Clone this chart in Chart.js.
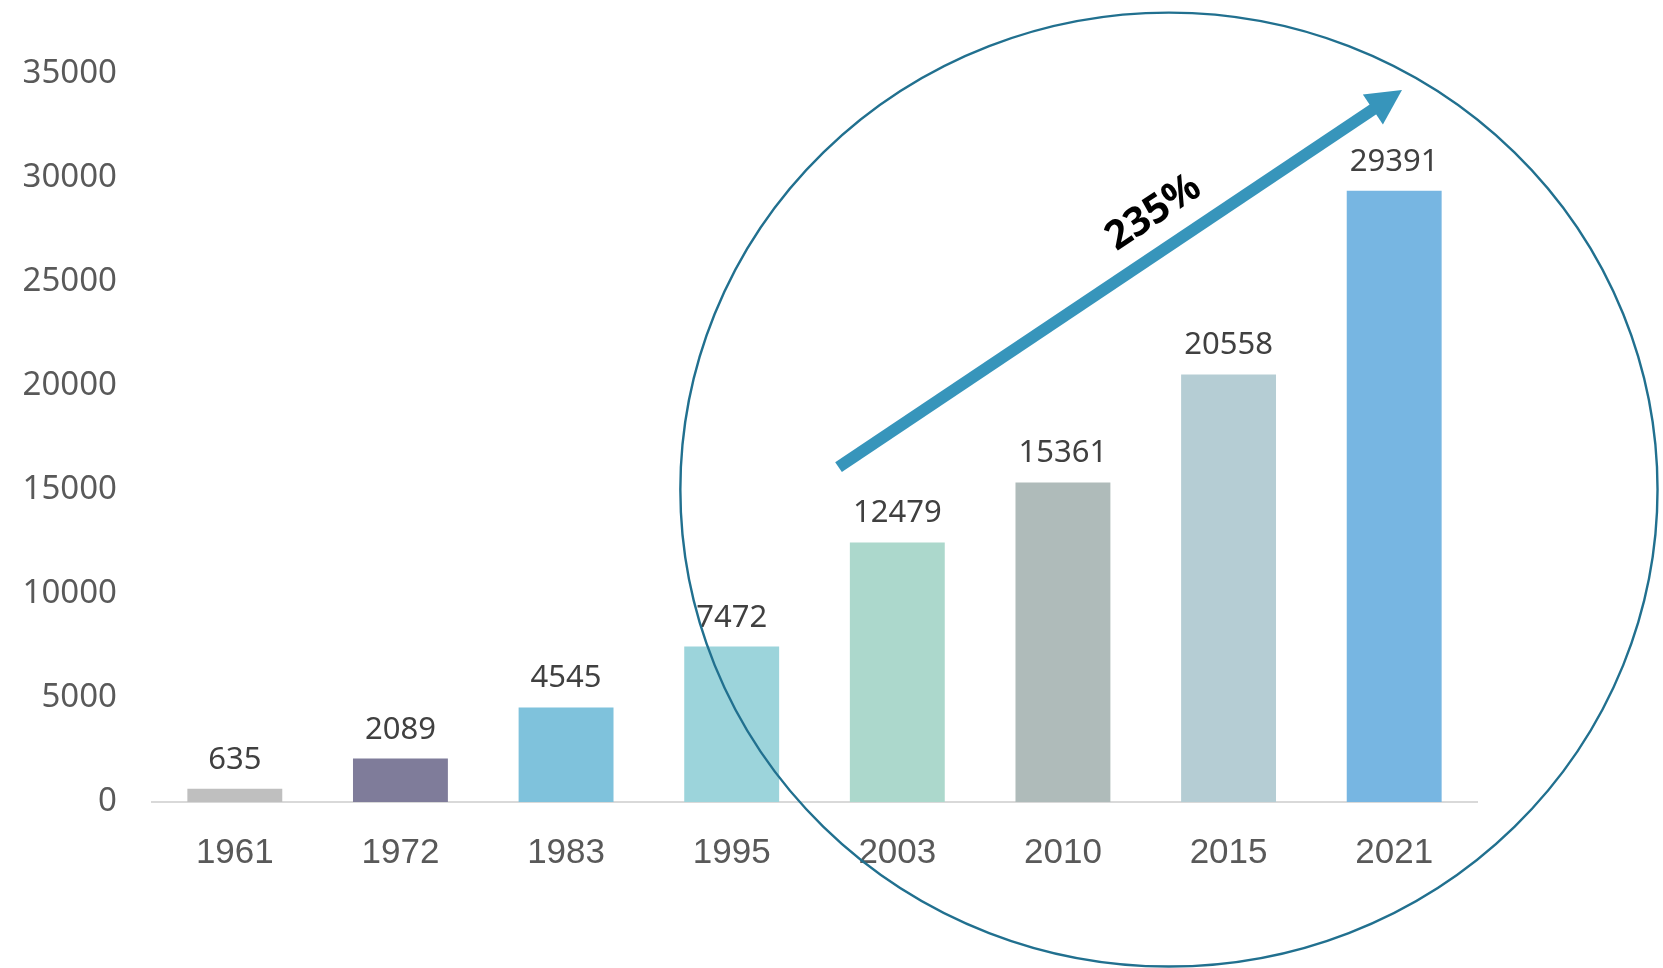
<!DOCTYPE html>
<html>
<head>
<meta charset="utf-8">
<script src="https://cdn.jsdelivr.net/npm/chart.js@4"></script>
<style>
  html, body { margin: 0; padding: 0; background: #fff; }
  #wrap { width: 1663px; height: 968px; }
</style>
</head>
<body>
<div id="wrap"><canvas id="growthChart" width="1663" height="968"></canvas></div>
<script>
const years = ["1961", "1972", "1983", "1995", "2003", "2010", "2015", "2021"];
const values = [635, 2089, 4545, 7472, 12479, 15361, 20558, 29391];
const barColors = ["#BFBFBF", "#7F7C9A", "#7FC2DC", "#9CD4DB", "#ACD8CC", "#AFBBBA", "#B5CDD4", "#77B6E2"];
const yTicks = [0, 5000, 10000, 15000, 20000, 25000, 30000, 35000];

// annotation: arrow and ring, given in scale units (category index, value)
const arrowFrom = { x: 3.645, y: 16100 };
const arrowTo = { x: 7.047, y: 34230 };
const arrowLabel = "235%";
const ring = { x: 5.64, y: 15020, rx: 2.95, ry: 22930 };

const valueLabels = {
    id: "valueLabels",
    afterDatasetsDraw(chart) {
        const ctx = chart.ctx;
        const meta = chart.getDatasetMeta(0);
        ctx.save();
        ctx.font = "31px 'Noto Sans'";
        ctx.fillStyle = "#404040";
        ctx.textAlign = "center";
        ctx.textBaseline = "alphabetic";
        meta.data.forEach(function (bar, i) {
            ctx.fillText(String(values[i]), bar.x, bar.y - 20);
        });
        ctx.restore();
    }
};

const overlay = {
    id: "overlay",
    afterDraw(chart) {
        const ctx = chart.ctx;
        const xs = chart.scales.x, ys = chart.scales.y;

        // ring
        const cx = xs.getPixelForValue(ring.x);
        const cy = ys.getPixelForValue(ring.y);
        const rx = xs.getPixelForValue(ring.x + ring.rx) - cx;
        const ry = cy - ys.getPixelForValue(ring.y + ring.ry);
        ctx.save();
        ctx.strokeStyle = "#21708F";
        ctx.lineWidth = 2.4;
        ctx.beginPath();
        ctx.ellipse(cx, cy, rx, ry, 0, 0, Math.PI * 2);
        ctx.stroke();

        // arrow
        const x0 = xs.getPixelForValue(arrowFrom.x), y0 = ys.getPixelForValue(arrowFrom.y);
        const x1 = xs.getPixelForValue(arrowTo.x), y1 = ys.getPixelForValue(arrowTo.y);
        const len = Math.hypot(x1 - x0, y1 - y0);
        const ux = (x1 - x0) / len, uy = (y1 - y0) / len;
        const headLen = 35, headHalf = 18;
        const bx = x1 - ux * headLen, by = y1 - uy * headLen;
        ctx.strokeStyle = "#3795BB";
        ctx.fillStyle = "#3795BB";
        ctx.lineWidth = 12;
        ctx.lineCap = "butt";
        ctx.beginPath();
        ctx.moveTo(x0, y0);
        ctx.lineTo(bx + ux * 2, by + uy * 2);
        ctx.stroke();
        ctx.beginPath();
        ctx.moveTo(x1, y1);
        ctx.lineTo(bx - uy * headHalf, by + ux * headHalf);
        ctx.lineTo(bx + uy * headHalf, by - ux * headHalf);
        ctx.closePath();
        ctx.fill();

        // label along the arrow
        const t = 0.595 * len;
        const px = x0 + ux * t + uy * 36, py = y0 + uy * t - ux * 36;
        ctx.translate(px, py);
        ctx.rotate(Math.atan2(uy, ux));
        ctx.font = "bold 40px 'Noto Sans'";
        ctx.fillStyle = "#000";
        ctx.textAlign = "center";
        ctx.textBaseline = "middle";
        ctx.fillText(arrowLabel, 0, 0);
        ctx.restore();
    }
};

document.addEventListener("DOMContentLoaded", function () {
    const ctx = document.getElementById("growthChart").getContext("2d");
    new Chart(ctx, {
        type: "bar",
        data: {
            labels: years,
            datasets: [
                {
                    data: values,
                    backgroundColor: barColors,
                    borderWidth: 0,
                    categoryPercentage: 1,
                    barPercentage: 0.573
                }
            ]
        },
        options: {
            responsive: false,
            animation: false,
            layout: { padding: { top: 74, right: 186, bottom: 0, left: 0 } },
            plugins: { legend: { display: false }, tooltip: { enabled: false } },
            scales: {
                x: {
                    grid: { display: false, drawTicks: false },
                    border: { color: "#D9D9D9", width: 2 },
                    ticks: {
                        color: "#595959",
                        font: { family: "'Liberation Sans'", size: 35 },
                        padding: 30,
                        maxRotation: 0
                    },
                    afterFit(scale) { scale.height = 166; }
                },
                y: {
                    min: 0,
                    max: 35000,
                    grid: { display: false, drawTicks: false },
                    border: { display: false },
                    afterBuildTicks(scale) { scale.ticks = yTicks.map(v => ({ value: v })); },
                    ticks: {
                        color: "#595959",
                        font: { family: "'Noto Sans'", size: 33 },
                        padding: 35,
                        callback: v => String(v)
                    },
                    afterFit(scale) { scale.width = 152; }
                }
            }
        },
        plugins: [valueLabels, overlay]
    });
});
</script>
</body>
</html>
